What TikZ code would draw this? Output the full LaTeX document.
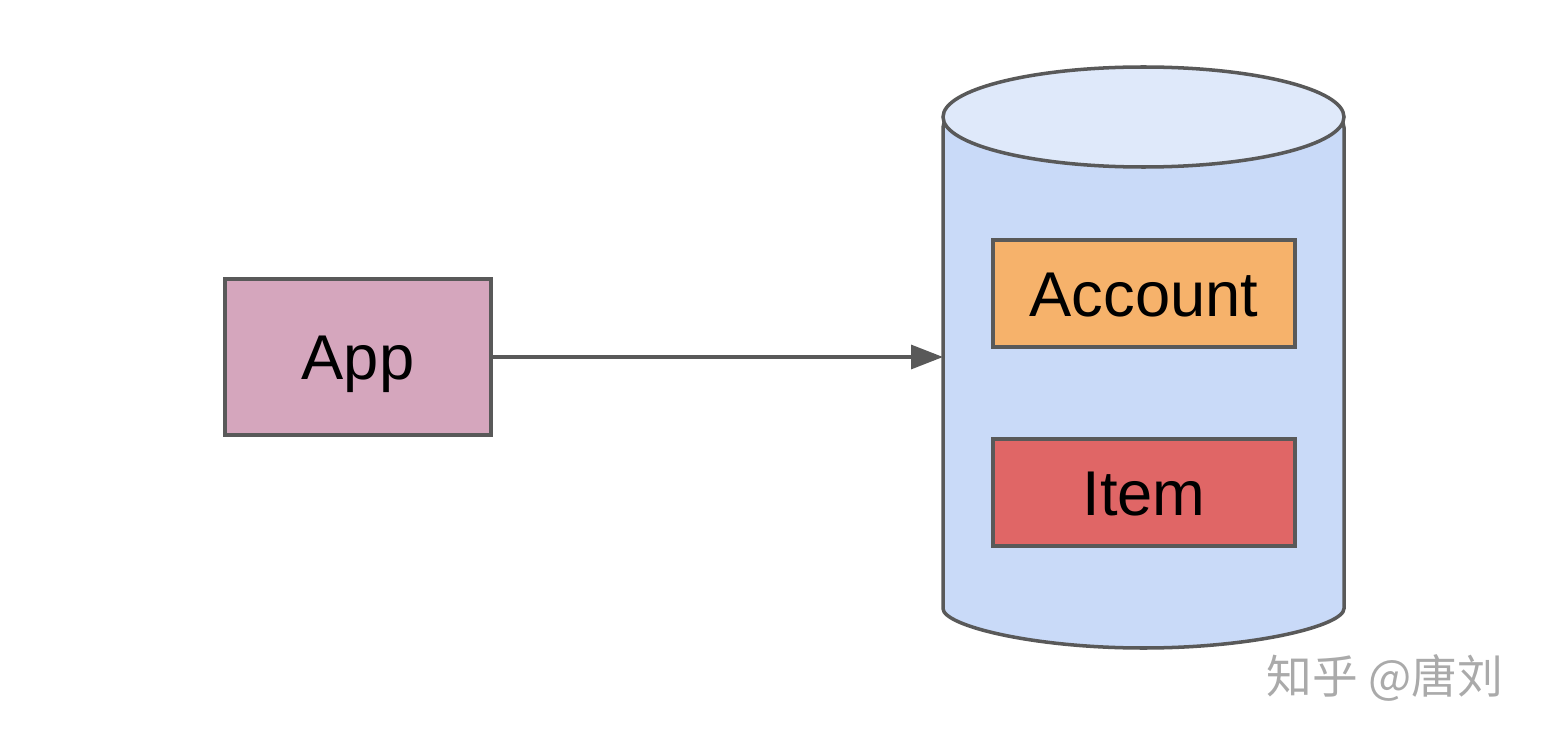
\documentclass[tikz,border=0pt]{standalone}
\usepackage{fontspec}
\setmainfont{Liberation Sans}
\newfontfamily\cjk{Noto Sans CJK SC}
\usepackage{xcolor}
\usepackage{tikz}
\usetikzlibrary{arrows.meta,positioning}
\definecolor{edge}{HTML}{595959}
\definecolor{appfill}{HTML}{D5A6BD}
\definecolor{acctfill}{HTML}{F6B26B}
\definecolor{itemfill}{HTML}{E06666}
\definecolor{dbbody}{HTML}{C9DAF8}
\definecolor{dbtop}{HTML}{DFE9FA}
\definecolor{wmgray}{HTML}{AAAAAA}

\begin{document}
\begin{tikzpicture}[
  box/.style={rectangle, draw=edge, line width=1.9pt, minimum width=6.04cm, minimum height=2.14cm, inner sep=0pt,
    text height=25.8pt, text depth=0pt, font=\fontsize{36}{43}\selectfont},
  dbline/.style={draw=edge, line width=2pt},
  conn/.style={-{Triangle[length=0.64cm, width=0.48cm]}, edge, line width=1.9pt}
]
\useasboundingbox (0,0) rectangle (30.96,-14.84);

% database cylinder
\path[dbline, fill=dbbody, rounded corners=6pt] (18.86,-2.34) -- (18.86,-11.96)
  arc[start angle=180, end angle=360, x radius=4.01cm, y radius=1cm] -- (26.88,-2.34) -- cycle;
\draw[dbline, fill=dbtop] (22.87,-2.34) ellipse[x radius=4.01cm, y radius=1cm];
\coordinate (db) at (18.86,-7.14);

\node[box, fill=appfill, minimum width=5.32cm, minimum height=3.12cm] (app) at (7.16,-7.14) {App};
\node[box, fill=acctfill] (account) at (22.88,-5.87) {Account};
\node[box, fill=itemfill] (item) at (22.88,-9.85) {Item};

\draw[conn] (app.east) -- (db);

\node[text=wmgray, font=\cjk\fontsize{26}{30}\selectfont] (wm) at (27.7,-13.56) {知乎 @唐刘};
\end{tikzpicture}
\end{document}
